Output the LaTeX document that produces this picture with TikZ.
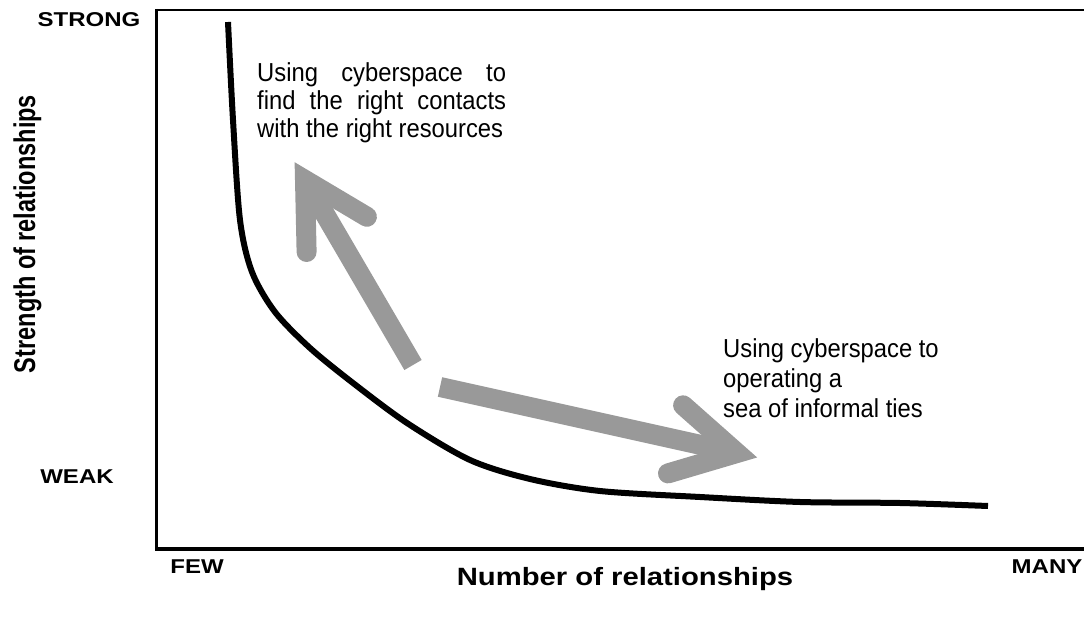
\documentclass[tikz,border=0pt]{standalone}
\usepackage{fontspec}
\setmainfont{Liberation Sans}
\usetikzlibrary{positioning}
\definecolor{arrowgray}{RGB}{153,153,153}
\newcommand{\widen}[1]{\scalebox{1.2}[1]{#1}}

\begin{document}
\begin{tikzpicture}[x=1pt,y=-1pt,
  endlabel/.style={font=\fontsize{20}{24}\selectfont\bfseries,inner sep=0pt,anchor=base},
  axislabel/.style={font=\fontsize{25}{29}\selectfont\bfseries,inner sep=0pt,anchor=base},
  note/.style={font=\fontsize{26}{28}\selectfont,inner sep=0pt,anchor=north west},
  fatshaft/.style={draw=arrowgray,line width=20pt},
  fathead/.style={draw=arrowgray,line width=20pt,line cap=round,line join=miter},
  tiecurve/.style={line width=6pt}
]
\useasboundingbox (0,0) rectangle (1084,617);

% frame
\coordinate (topleft) at (156,10);
\coordinate (origin) at (156,549);
\draw[line width=2pt] (topleft) -- (1084,10);
\draw[line width=3pt] (156,9) -- (156,551);
\draw[line width=3.5pt] (origin) -- (1084,549);

% the curve
\draw[tiecurve] plot[smooth] coordinates {(228,22) (233,120) (240,220) (252,272)
  (275,312) (310,348) (353,383) (407,423) (470,460) (530,479) (600,491)
  (700,497) (800,502) (900,503) (988,506)};

% fat gray arrows
\coordinate (upv) at (305,180);
\draw[fatshaft] (413,365) -- (upv);
\draw[fathead] (306.6,252) -- (upv) -- (366.9,216.8);
\coordinate (rightv) at (737,453);
\draw[fatshaft] (440,387) -- (rightv);
\draw[fathead] (683.1,405.3) -- (rightv) -- (668,473.4);

% axis ends
\node[endlabel] (strong) at (89,27) {\widen{STRONG}};
\node[endlabel] (weak) at (77,483) {\widen{WEAK}};
\node[endlabel] (few) at (197,573) {\widen{FEW}};
\node[endlabel] (many) at (1047,573) {\widen{MANY}};

% axis titles
\node[axislabel] (xtitle) at (625,585) {\scalebox{1.17}[1]{Number of relationships}};
\node[axislabel,rotate=90] (ytitle) at (35,234) {\scalebox{0.94}[1.2]{Strength of relationships}};

% notes
\node[note] (contactnote) at (257,62) {\scalebox{0.915}[1]{\parbox{272pt}{Using cyberspace to\linebreak
  find the right contacts\linebreak with the right resources}}};
\node[note,font=\fontsize{26}{30}\selectfont] (tiesnote) at (723,338) {\scalebox{0.915}[1]{\parbox{300pt}{\raggedright
  Using cyberspace to\\ operating a\\ sea of informal ties}}};
\end{tikzpicture}
\end{document}
